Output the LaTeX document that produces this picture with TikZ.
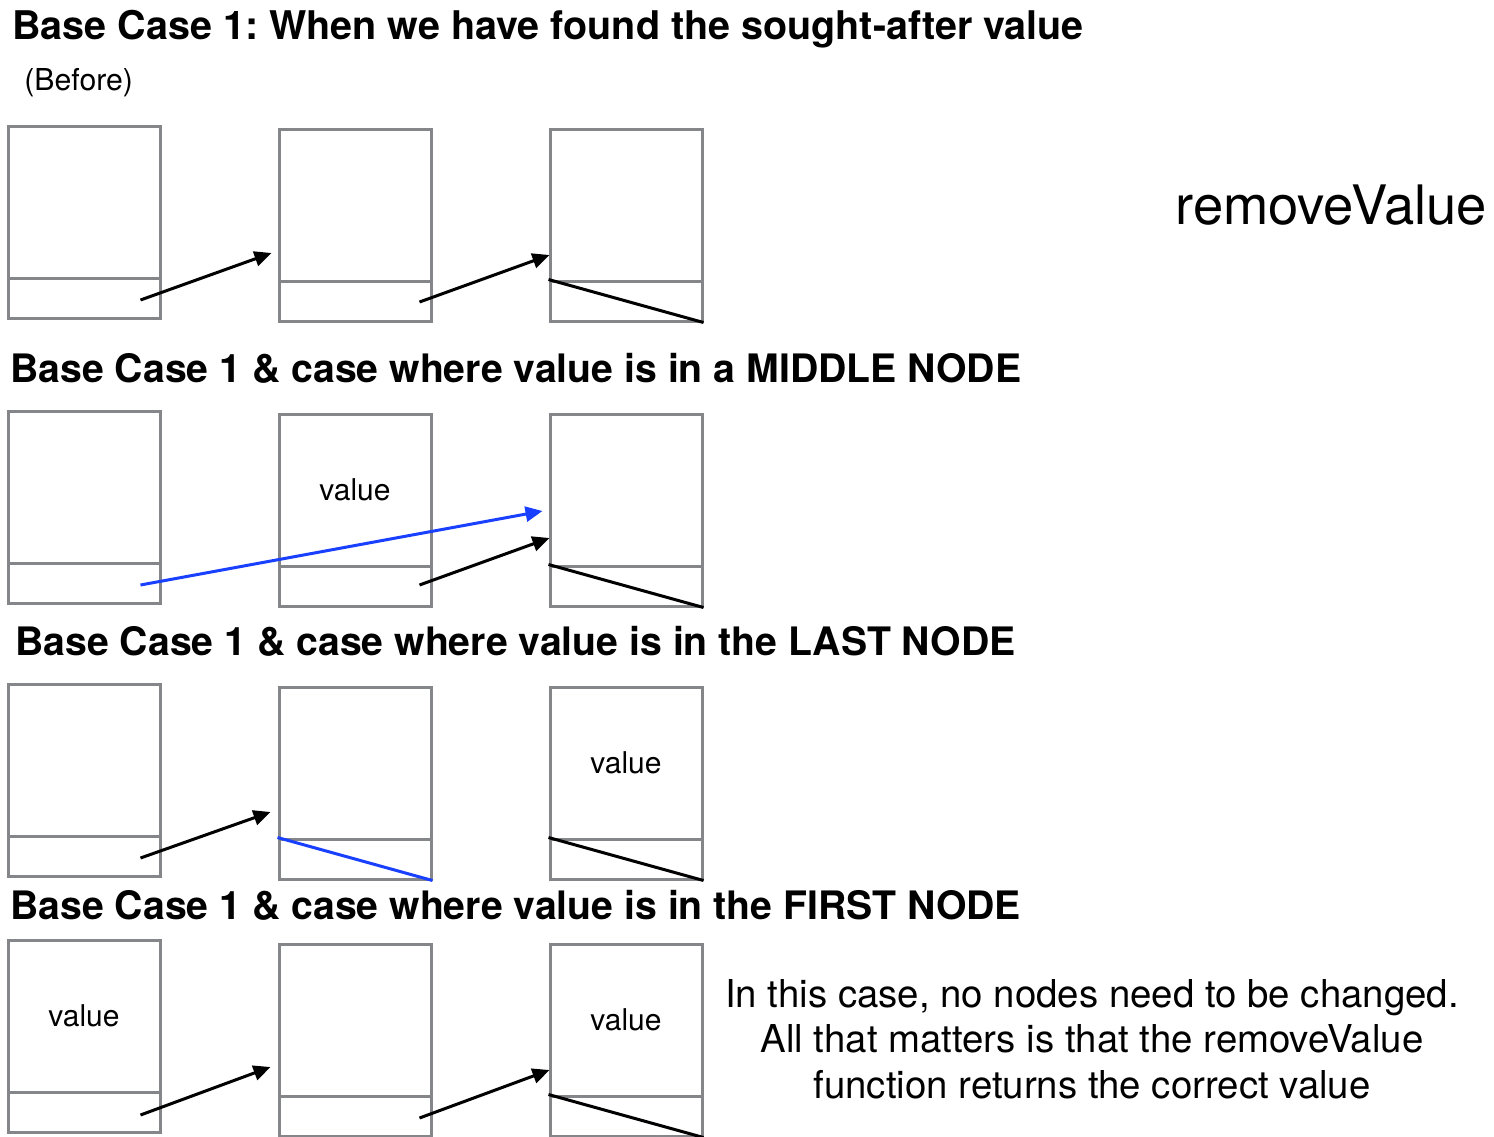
\documentclass[tikz,border=0pt]{standalone}
\usepackage{fontspec}
\setmainfont{TeX Gyre Heros}
\usetikzlibrary{arrows.meta,calc}
\definecolor{boxgray}{RGB}{132,134,137}
\definecolor{ptrblue}{RGB}{26,64,255}
\newcommand\llnode[4]{%
  \node[datacell] (#1) at (#2+76,#3+76) {#4};
  \node[nextcell] (#1n) at (#2+76,#3+172) {};
}
\frenchspacing
\begin{document}
\begin{tikzpicture}[x=0.5pt,y=-0.5pt,
  datacell/.style={draw=boxgray,line width=1.5pt,minimum width=76pt,minimum height=76pt,inner sep=0pt,
    font=\fontsize{15pt}{18pt}\selectfont},
  nextcell/.style={draw=boxgray,line width=1.5pt,minimum width=76pt,minimum height=20pt,inner sep=0pt},
  ptr/.style={line width=1.5pt,-{Triangle[length=8.5pt,width=7.5pt]}},
  nullptr/.style={line width=1.5pt},
  title/.style={anchor=base west,inner sep=0pt,font=\fontsize{19.6pt}{23pt}\selectfont\bfseries},
  note/.style={anchor=base,inner sep=0pt,font=\fontsize{19.2pt}{23pt}\selectfont}
]
\useasboundingbox (0,0) rectangle (1494,1136);

% titles
\node[title,font=\fontsize{19.75pt}{23pt}\selectfont\bfseries] (t1) at (12,39) {Base Case 1: When we have found the sought-after value};
\node[anchor=base west,inner sep=0pt,font=\fontsize{15.1pt}{18pt}\selectfont] (before) at (24,90) {(Before)};
\node[anchor=base west,inner sep=0pt,font=\fontsize{27.2pt}{30pt}\selectfont] (rv) at (1175,224) {removeValue};
\node[title] (t2) at (10,382) {Base Case 1 \& case where value is in a MIDDLE NODE};
\node[title] (t3) at (15,655) {Base Case 1 \& case where value is in the LAST NODE};
\node[title] (t4) at (10,919) {Base Case 1 \& case where value is in the FIRST NODE};

% row 1
\llnode{r1a}{8}{126}{}
\llnode{r1b}{279}{129}{}
\llnode{r1c}{550}{129}{}
\draw[ptr] ([xshift=-10.5pt,yshift=-1pt]r1an.east) -- ([xshift=-3pt,yshift=-24pt]r1b.west);
\draw[ptr] ([xshift=-6.5pt,yshift=-0.5pt]r1bn.east) -- ([xshift=0.5pt,yshift=-25pt]r1c.west);
\draw[nullptr] (r1cn.north west) -- (r1cn.south east);

% row 2
\llnode{r2a}{8}{411}{}
\llnode{r2b}{279}{414}{value}
\llnode{r2c}{550}{414}{}
\draw[ptr,ptrblue] ([xshift=-10.5pt,yshift=-1pt]r2an.east) -- ([xshift=-3pt,yshift=-10.5pt]r2c.west);
\draw[ptr] ([xshift=-6.5pt,yshift=0.5pt]r2bn.east) -- ([xshift=0.5pt,yshift=-24pt]r2c.west);
\draw[nullptr] (r2cn.north west) -- (r2cn.south east);

% row 3
\llnode{r3a}{8}{684}{}
\llnode{r3b}{279}{687}{}
\llnode{r3c}{550}{687}{value}
\draw[ptr] ([xshift=-10.5pt,yshift=-1pt]r3an.east) -- ([xshift=-3.5pt,yshift=-24.5pt]r3b.west);
\draw[nullptr,ptrblue] (r3bn.north west) -- (r3bn.south east);
\draw[nullptr] (r3cn.north west) -- (r3cn.south east);

% row 4
\llnode{r4a}{8}{940}{value}
\llnode{r4b}{279}{944}{}
\llnode{r4c}{550}{944}{value}
\draw[ptr] ([xshift=-10.5pt,yshift=-1.5pt]r4an.east) -- ([xshift=-3.5pt,yshift=-23.5pt]r4b.west);
\draw[ptr] ([xshift=-6.5pt,yshift=-1pt]r4bn.east) -- ([xshift=0.5pt,yshift=-25pt]r4c.west);
\draw[nullptr] (r4cn.north west) -- (r4cn.south east);

% note
\node[note] (n1) at (1092,1007) {In this case, no nodes need to be changed.};
\node[note] (n2) at (1092,1052) {All that matters is that the removeValue};
\node[note] (n3) at (1092,1098) {function returns the correct value};
\end{tikzpicture}
\end{document}
